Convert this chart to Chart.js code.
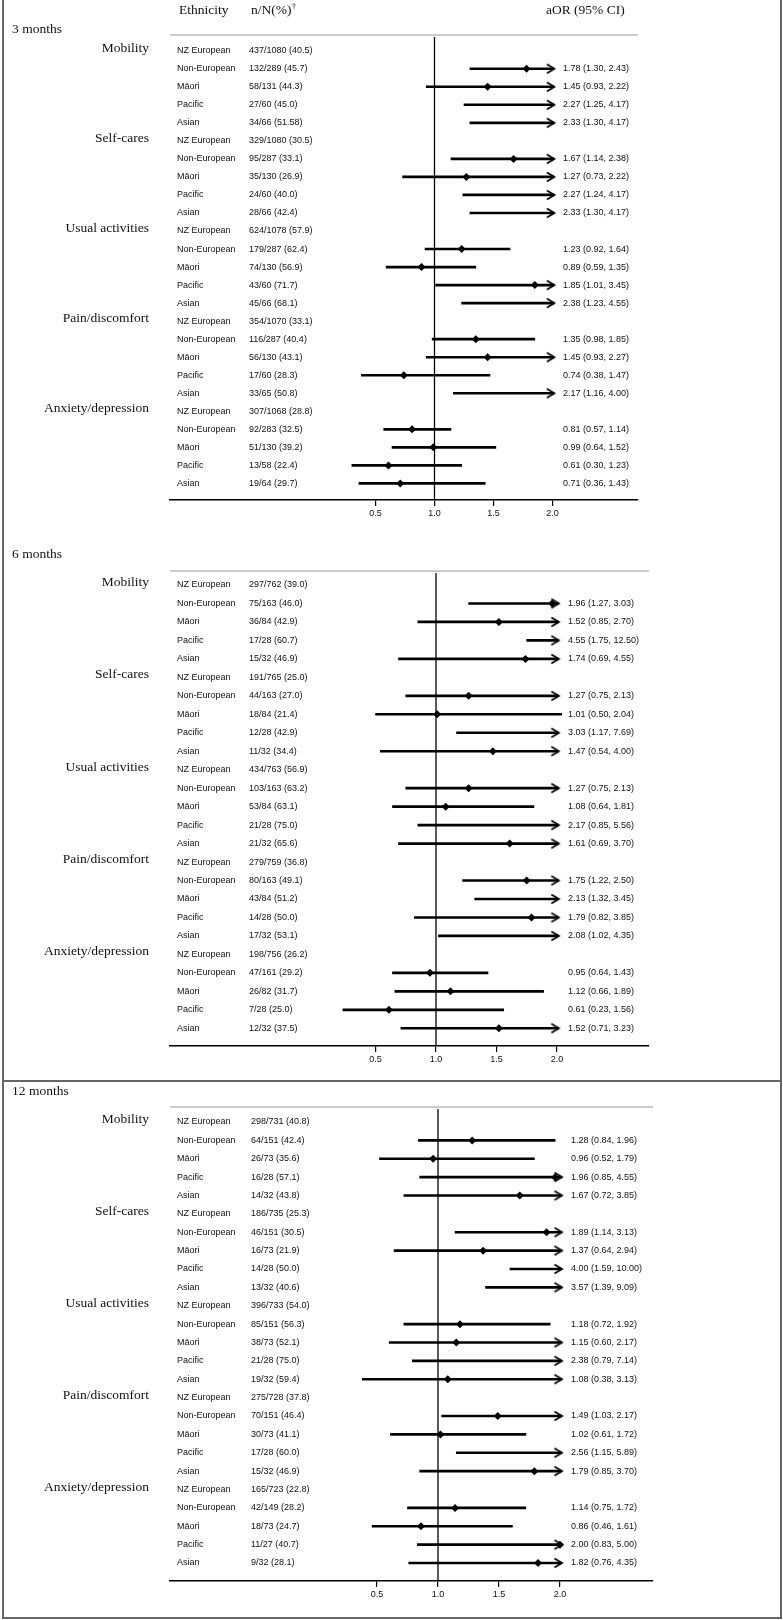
<!DOCTYPE html>
<html lang="en">
<head>
<meta charset="UTF-8">
<title>aOR by ethnicity</title>
<script src="https://cdn.jsdelivr.net/npm/chart.js"></script>
<style>
  body { margin: 0; background: #fff; }
  #wrap { position: relative; width: 783px; height: 1620px; }
  #wrap canvas { position: absolute; left: 0; }
  .rule { position: absolute; background: #666; }
</style>
</head>
<body>
<div id="wrap">
  <canvas id="c3" width="783" height="524" style="top:0"></canvas>
  <canvas id="c6" width="783" height="557" style="top:524px"></canvas>
  <canvas id="c12" width="783" height="539" style="top:1081px"></canvas>
  <div class="rule" style="left:2px;top:0;width:2px;height:1619px"></div>
  <div class="rule" style="left:780px;top:0;width:2px;height:1619px"></div>
  <div class="rule" style="left:2px;top:1080px;width:780px;height:2px"></div>
  <div class="rule" style="left:2px;top:1617px;width:780px;height:2px"></div>
</div>
<script>
const domains = ['Mobility', 'Self-cares', 'Usual activities', 'Pain/discomfort', 'Anxiety/depression'];
const ethnicities = ['NZ European', 'Non-European', 'Māori', 'Pacific', 'Asian'];
const xTicks = [0.5, 1.0, 1.5, 2.0];

// 3 months
const counts3 = [
  '437/1080 (40.5)', '132/289 (45.7)', '58/131 (44.3)', '27/60 (45.0)', '34/66 (51.58)',
  '329/1080 (30.5)', '95/287 (33.1)', '35/130 (26.9)', '24/60 (40.0)', '28/66 (42.4)',
  '624/1078 (57.9)', '179/287 (62.4)', '74/130 (56.9)', '43/60 (71.7)', '45/66 (68.1)',
  '354/1070 (33.1)', '116/287 (40.4)', '56/130 (43.1)', '17/60 (28.3)', '33/65 (50.8)',
  '307/1068 (28.8)', '92/283 (32.5)', '51/130 (39.2)', '13/58 (22.4)', '19/64 (29.7)'
];
const aor3   = [null, 1.78, 1.45, 2.27, 2.33, null, 1.67, 1.27, 2.27, 2.33, null, 1.23, 0.89, 1.85, 2.38, null, 1.35, 1.45, 0.74, 2.17, null, 0.81, 0.99, 0.61, 0.71];
const lower3 = [null, 1.30, 0.93, 1.25, 1.30, null, 1.14, 0.73, 1.24, 1.30, null, 0.92, 0.59, 1.01, 1.23, null, 0.98, 0.93, 0.38, 1.16, null, 0.57, 0.64, 0.30, 0.36];
const upper3 = [null, 2.43, 2.22, 4.17, 4.17, null, 2.38, 2.22, 4.17, 4.17, null, 1.64, 1.35, 3.45, 4.55, null, 1.85, 2.27, 1.47, 4.00, null, 1.14, 1.52, 1.23, 1.43];

// 6 months
const counts6 = [
  '297/762 (39.0)', '75/163 (46.0)', '36/84 (42.9)', '17/28 (60.7)', '15/32 (46.9)',
  '191/765 (25.0)', '44/163 (27.0)', '18/84 (21.4)', '12/28 (42.9)', '11/32 (34.4)',
  '434/763 (56.9)', '103/163 (63.2)', '53/84 (63.1)', '21/28 (75.0)', '21/32 (65.6)',
  '279/759 (36.8)', '80/163 (49.1)', '43/84 (51.2)', '14/28 (50.0)', '17/32 (53.1)',
  '198/756 (26.2)', '47/161 (29.2)', '26/82 (31.7)', '7/28 (25.0)', '12/32 (37.5)'
];
const aor6   = [null, 1.96, 1.52, 4.55, 1.74, null, 1.27, 1.01, 3.03, 1.47, null, 1.27, 1.08, 2.17, 1.61, null, 1.75, 2.13, 1.79, 2.08, null, 0.95, 1.12, 0.61, 1.52];
const lower6 = [null, 1.27, 0.85, 1.75, 0.69, null, 0.75, 0.50, 1.17, 0.54, null, 0.75, 0.64, 0.85, 0.69, null, 1.22, 1.32, 0.82, 1.02, null, 0.64, 0.66, 0.23, 0.71];
const upper6 = [null, 3.03, 2.70, 12.50, 4.55, null, 2.13, 2.04, 7.69, 4.00, null, 2.13, 1.81, 5.56, 3.70, null, 2.50, 3.45, 3.85, 4.35, null, 1.43, 1.89, 1.56, 3.23];

// 12 months
const counts12 = [
  '298/731 (40.8)', '64/151 (42.4)', '26/73 (35.6)', '16/28 (57.1)', '14/32 (43.8)',
  '186/735 (25.3)', '46/151 (30.5)', '16/73 (21.9)', '14/28 (50.0)', '13/32 (40.6)',
  '396/733 (54.0)', '85/151 (56.3)', '38/73 (52.1)', '21/28 (75.0)', '19/32 (59.4)',
  '275/728 (37.8)', '70/151 (46.4)', '30/73 (41.1)', '17/28 (60.0)', '15/32 (46.9)',
  '165/723 (22.8)', '42/149 (28.2)', '18/73 (24.7)', '11/27 (40.7)', '9/32 (28.1)'
];
const aor12   = [null, 1.28, 0.96, 1.96, 1.67, null, 1.89, 1.37, 4.00, 3.57, null, 1.18, 1.15, 2.38, 1.08, null, 1.49, 1.02, 2.56, 1.79, null, 1.14, 0.86, 2.00, 1.82];
const lower12 = [null, 0.84, 0.52, 0.85, 0.72, null, 1.14, 0.64, 1.59, 1.39, null, 0.72, 0.60, 0.79, 0.38, null, 1.03, 0.61, 1.15, 0.85, null, 0.75, 0.46, 0.83, 0.76];
const upper12 = [null, 1.96, 1.79, 4.55, 3.85, null, 3.13, 2.94, 10.00, 9.09, null, 1.92, 2.17, 7.14, 3.13, null, 2.17, 1.72, 5.89, 3.70, null, 1.72, 1.61, 5.00, 4.35];

const SERIF = '"Liberation Serif", "Times New Roman", serif';
const SANS = '"Liberation Sans", Arial, sans-serif';
const ARROW_LIMIT = 2.05;  // CIs going past this get an arrow
const ARROW_TIP = 2.02;
const LEFT = 170;

// layout of each panel (pixels relative to its canvas)
const panels = [
  { id: 'c3', title: '3 months', titleY: 29.5, header: true, h: 524, top: 35, axis: 500, row0: 50.7, step: 18.03,
    one: 434.5, px: 118, right: 638, nnX: 249, aorX: 563, counts: counts3, est: aor3, lo: lower3, hi: upper3 },
  { id: 'c6', title: '6 months', titleY: 30, header: false, h: 557, top: 47, axis: 522, row0: 61, step: 18.47,
    one: 436, px: 120.9, right: 649, nnX: 249, aorX: 568, counts: counts6, est: aor6, lo: lower6, hi: upper6 },
  { id: 'c12', title: '12 months', titleY: 10.5, header: false, h: 539, top: 26, axis: 500, row0: 41, step: 18.375,
    one: 438, px: 122, right: 653, nnX: 251, aorX: 571, counts: counts12, est: aor12, lo: lower12, hi: upper12 }
];

function makeArrow() {
  const c = document.createElement('canvas');
  c.width = 20; c.height = 12;
  const g = c.getContext('2d');
  g.strokeStyle = '#000';
  g.lineWidth = 1.8;
  g.beginPath();
  g.moveTo(2, 1.5); g.lineTo(9.5, 6); g.lineTo(2, 10.5);
  g.stroke();
  return c;
}
const arrowImg = makeArrow();

function panelPlugin(p) {
  return {
    id: 'panelText',
    beforeDatasetsDraw(chart) {
      const { ctx, chartArea } = chart;
      const x1 = chart.scales.x.getPixelForValue(1);
      ctx.save();
      ctx.strokeStyle = '#bbb';
      ctx.lineWidth = 1.5;
      ctx.beginPath();
      ctx.moveTo(chartArea.left, chartArea.top);
      ctx.lineTo(chartArea.right, chartArea.top);
      ctx.stroke();
      ctx.strokeStyle = '#000';
      ctx.lineWidth = 1.3;
      ctx.beginPath();
      ctx.moveTo(x1, chartArea.top + 2);
      ctx.lineTo(x1, chartArea.bottom);
      ctx.stroke();
      ctx.restore();
    },
    afterDatasetsDraw(chart) {
      const { ctx } = chart;
      const ys = chart.scales.y;
      ctx.save();
      ctx.fillStyle = '#111';
      ctx.textBaseline = 'middle';
      ctx.font = '13.5px ' + SERIF;
      ctx.textAlign = 'left';
      ctx.fillText(p.title, 12, p.titleY);
      if (p.header) {
        ctx.fillText('Ethnicity', 179, 10.5);
        ctx.fillText('n/N(%)', 251, 10.5);
        const w = ctx.measureText('n/N(%)').width;
        ctx.font = '8px ' + SERIF;
        ctx.fillText('†', 251 + w + 0.5, 6.5);
        ctx.font = '13.5px ' + SERIF;
        ctx.fillText('aOR (95% CI)', 546, 10.5);
      }
      p.counts.forEach((txt, i) => {
        const y = ys.getPixelForValue(i);
        if (i % ethnicities.length === 0) {
          ctx.font = '13.5px ' + SERIF;
          ctx.textAlign = 'right';
          ctx.fillText(domains[i / ethnicities.length], 149, y - 2.5);
        }
        ctx.font = '9px ' + SANS;
        ctx.textAlign = 'left';
        ctx.fillText(ethnicities[i % ethnicities.length], 177, y);
        ctx.fillText(txt, p.nnX, y);
        if (p.est[i] !== null) {
          ctx.fillText(p.est[i].toFixed(2) + ' (' + p.lo[i].toFixed(2) + ', ' + p.hi[i].toFixed(2) + ')', p.aorX, y);
        }
      });
      ctx.restore();
    }
  };
}

panels.forEach(p => {
  const ci = [], pts = [], arrows = [];
  p.est.forEach((e, i) => {
    if (e === null) return;
    const arrow = p.hi[i] > ARROW_LIMIT;
    ci.push({ y: i, x: [p.lo[i], arrow ? ARROW_TIP - 0.01 : p.hi[i]] });
    if (arrow) arrows.push({ x: ARROW_TIP, y: i });
    if (e <= ARROW_TIP) pts.push({ x: e, y: i });
  });
  const last = p.est.length - 1;
  const yMin = -(p.row0 - p.top) / p.step;
  const yMax = last + (p.axis - (p.row0 + last * p.step)) / p.step;
  const xMin = 1 - (p.one - LEFT) / p.px;
  const xMax = 1 + (p.right - p.one) / p.px;

  new Chart(document.getElementById(p.id), {
    type: 'scatter',
    data: {
      datasets: [
        { type: 'bar', indexAxis: 'y', data: ci, backgroundColor: '#000', borderWidth: 0, barThickness: 2 },
        { data: pts, pointStyle: 'rectRot', pointRadius: 4, backgroundColor: '#000', borderWidth: 0 },
        { data: arrows, pointStyle: arrowImg, pointRadius: 6 }
      ]
    },
    options: {
      responsive: false,
      animation: false,
      events: [],
      layout: { padding: { left: LEFT, right: 783 - p.right, top: p.top, bottom: p.h - p.axis - 22 } },
      plugins: { legend: { display: false }, tooltip: { enabled: false } },
      scales: {
        x: {
          type: 'linear', min: xMin, max: xMax, offset: false,
          afterBuildTicks: s => { s.ticks = xTicks.map(v => ({ value: v })); },
          afterFit: s => { s.height = 22; },
          ticks: { callback: v => Number(v).toFixed(1), color: '#111', font: { family: SANS, size: 9 }, padding: 2, maxRotation: 0, autoSkip: false },
          grid: { offset: false, drawOnChartArea: false, drawTicks: true, tickLength: 6, color: '#000', lineWidth: 1.2 },
          border: { display: true, color: '#000', width: 1.5 }
        },
        y: { type: 'linear', min: yMin, max: yMax, reverse: true, display: false, offset: false, grid: { offset: false } }
      }
    },
    plugins: [panelPlugin(p)]
  });
});
</script>
</body>
</html>
